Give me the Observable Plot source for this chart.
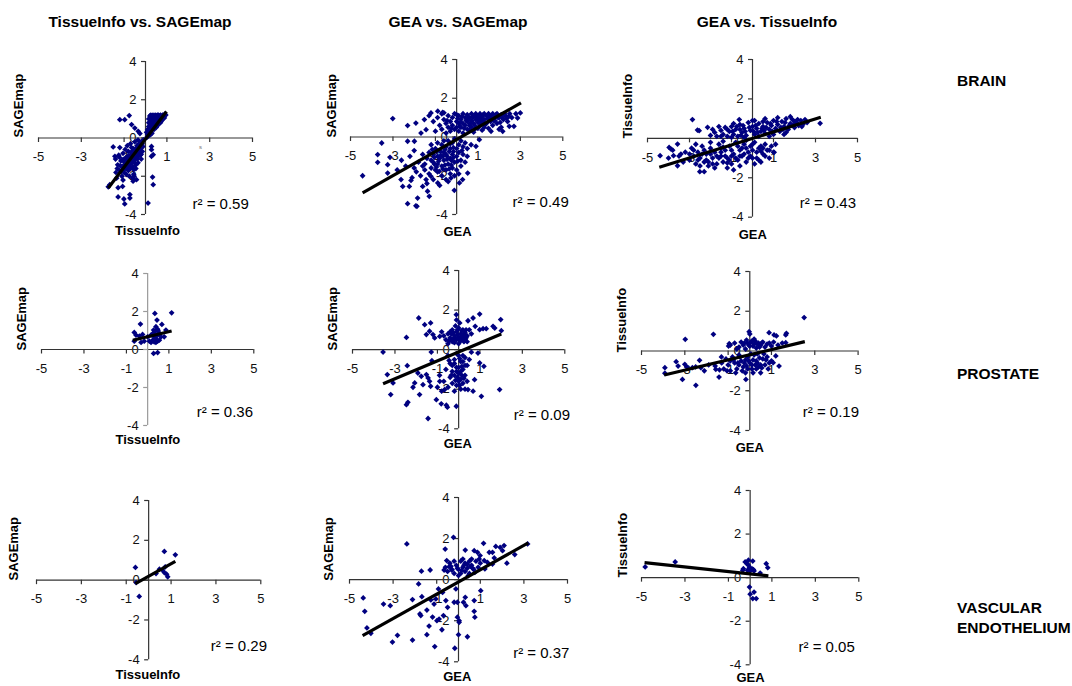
<!DOCTYPE html>
<html><head><meta charset="utf-8">
<script src="https://cdn.jsdelivr.net/npm/d3@7"></script>
<script src="https://cdn.jsdelivr.net/npm/@observablehq/plot@0.6"></script>
<style>
body{margin:0;background:#fff;font-family:"Liberation Sans",Arial,sans-serif}
#chart{position:relative;width:1072px;height:686px;overflow:hidden;background:#fff}
#chart svg{position:absolute}
</style></head><body><div id="chart"></div>
<script>
// ---------- data ----------
const columnTitles = ["TissueInfo vs. SAGEmap", "GEA vs. SAGEmap", "GEA vs. TissueInfo"];
const rowLabels = [["BRAIN"], ["PROSTATE"], ["VASCULAR", "ENDOTHELIUM"]];
const xAxisTitles = ["TissueInfo", "GEA", "GEA"];
const yAxisTitles = ["SAGEmap", "SAGEmap", "TissueInfo"];
const xTickValues = [-5, -3, -1, 1, 3, 5];
const yTickValues = [-4, -2, 0, 2, 4];
const r2Values = [0.59, 0.49, 0.43, 0.36, 0.09, 0.19, 0.29, 0.37, 0.05];

const brainTS = [
[0.1,0.2],[0.15,0.35],[0.2,0.3],[0.2,0.5],[0.25,0.6],[0.25,0.4],[0.3,0.7],[0.3,0.5],[0.3,0.9],[0.35,0.8],[0.35,1.0],[0.35,0.6],[0.4,1.1],[0.4,0.9],[0.4,0.7],[0.45,1.2],[0.45,1.0],[0.45,0.8],[0.45,0.6],[0.5,1.15],[0.5,0.95],[0.5,0.75],[0.55,1.2],[0.55,1.0],[0.55,0.85],[0.6,1.2],[0.6,1.05],[0.6,0.9],[0.6,0.7],[0.65,1.15],[0.65,0.95],[0.7,1.2],[0.7,1.0],[0.7,0.8],[0.75,1.1],[0.75,0.9],[0.8,1.2],[0.8,1.0],[0.85,1.15],[0.9,1.25],[0.2,0.8],[0.25,1.0],[0.3,1.15],[0.25,1.2],[0.15,0.6],[0.1,0.45],[0.12,0.1],[0.2,0.15],[0.05,0.3],[0.3,0.25],[0.4,0.45],[0.5,0.55],[0.55,0.65],[0.65,0.8],[0.15,1.0],[0.2,1.15],[0.35,1.2],
[0.15,0.8],[0.22,0.7],[0.28,0.85],[0.32,1.05],[0.38,0.55],[0.42,0.95],[0.48,0.65],[0.52,1.05],[0.58,0.8],[0.62,1.1],[0.68,0.9],[0.72,1.1],[0.78,0.95],[0.82,1.1],[0.88,1.05],[0.95,1.2],[0.18,0.25],[0.25,0.2],[0.08,0.05],
[-0.1,-0.1],[-0.15,-0.3],[-0.2,-0.2],[-0.2,-0.5],[-0.25,-0.35],[-0.3,-0.6],[-0.3,-0.3],[-0.3,-0.9],[-0.35,-0.5],[-0.4,-0.7],[-0.4,-0.4],[-0.4,-1.0],[-0.45,-0.8],[-0.5,-0.6],[-0.5,-1.0],[-0.5,-1.3],[-0.55,-0.9],[-0.6,-0.7],[-0.6,-1.1],[-0.6,-1.5],[-0.65,-0.5],[-0.65,-1.3],[-0.7,-0.9],[-0.7,-1.2],[-0.7,-1.6],[-0.75,-1.0],[-0.75,-1.4],[-0.8,-0.7],[-0.8,-1.2],[-0.8,-1.7],[-0.85,-1.5],[-0.9,-1.0],[-0.9,-1.3],[-0.9,-1.9],[-0.95,-1.6],[-1.0,-1.1],[-1.0,-1.4],[-1.0,-1.8],[-1.05,-0.8],[-1.1,-1.5],[-1.1,-2.0],[-1.15,-1.2],[-1.2,-1.7],[-1.25,-0.9],[-1.3,-1.4],[-1.35,-2.1],[-1.4,-1.1],[-0.35,-1.3],[-0.45,-1.6],[-0.55,-1.9],[-0.25,-0.9],[-0.2,-1.1],[-0.6,-2.1],[-0.15,-0.7],[-0.85,-0.4],[-0.95,-0.6],[-1.2,-0.5],[-0.7,-0.3],[-0.5,-0.2],[-0.35,-0.1],[-1.05,-2.2],[-0.75,-2.0],
[-0.12,-0.45],[-0.22,-0.7],[-0.28,-0.45],[-0.33,-0.75],[-0.38,-1.1],[-0.42,-0.55],[-0.48,-0.9],[-0.52,-1.15],[-0.58,-0.55],[-0.62,-1.25],[-0.68,-0.75],[-0.72,-1.05],[-0.78,-1.3],[-0.82,-0.95],[-0.88,-1.6],[-0.92,-1.15],[-0.98,-1.25],[-1.02,-1.6],[-1.08,-1.15],[-1.12,-1.75],[-1.18,-1.45],[-1.22,-1.0],[-1.32,-1.6],[-1.38,-1.8],[-0.55,-1.65],[-0.45,-1.4],[-0.35,-0.95],[-0.2,-0.85],
[-1.2,0.96],[-0.97,0.96],[-0.76,1.17],[-0.65,0.7],[-0.5,0.52],[-0.34,0.35],[-0.26,0.23],[-1.67,-2.44],[-1.28,-2.6],[-1.07,-2.53],[-1.28,-3.08],[-1.01,-3.19],[-0.73,-2.96],[-0.73,-3.14],[-0.97,-3.45],[-1.43,-0.96],[-1.51,-0.47],[0.33,-2.04],[0.36,-2.44],[0.12,-3.4],[0.28,-0.61],[0.28,-0.96],[0.36,-0.87],[0.28,-0.44],[-0.42,-2.18],[-0.58,-2.26],[-0.53,-2.0],[-1.74,-2.55]
];
const brainGS = [
[-1.3,1.1],[-1.1,0.8],[-1.0,0.3],[-0.9,1.0],[-0.8,0.6],[-0.7,1.2],[-0.7,0.4],[-0.6,0.9],[-0.5,0.7],[-0.5,0.2],[-0.4,1.1],[-0.4,0.5],[-0.3,0.8],[-0.3,0.3],[-0.2,1.0],[-0.2,0.6],[-0.1,1.2],[-0.1,0.4],[0,0.8],[0,0.5],[0.1,1.1],[0.1,0.7],[0.1,0.3],[0.2,0.9],[0.2,0.5],[0.3,1.2],[0.3,0.7],[0.3,0.2],[0.4,1.0],[0.4,0.6],[0.5,1.15],[0.5,0.8],[0.5,0.4],[0.6,1.0],[0.6,0.6],[0.7,1.2],[0.7,0.85],[0.7,0.5],[0.8,1.05],[0.8,0.7],[0.9,1.2],[0.9,0.9],[0.9,0.45],[1.0,1.1],[1.0,0.75],[1.1,1.2],[1.1,0.95],[1.1,0.6],[1.2,1.05],[1.2,0.8],[1.3,1.2],[1.3,0.9],[1.3,0.5],[1.4,1.1],[1.4,0.7],[1.5,1.2],[1.5,0.95],[1.6,1.1],[1.6,0.8],[1.7,1.2],[1.7,0.6],[1.8,1.05],[1.8,0.85],[1.9,1.2],[1.9,0.7],[2.0,1.0],[2.1,1.15],[2.1,0.5],[2.2,0.9],[2.3,1.1],[2.4,0.8],[2.5,1.2],[2.6,1.0],[2.7,0.55],[1.2,0.35],[0.8,0.25],[1.5,0.45],[2.0,0.4],[0.0,1.15],[-0.6,1.25],
[0.05,0.95],[0.15,0.55],[0.25,1.05],[0.35,0.45],[0.45,0.85],[0.55,1.0],[0.65,0.7],[0.75,1.05],[0.85,0.6],[0.95,1.0],[1.05,0.9],[1.15,0.75],[1.25,1.15],[1.35,0.65],[1.45,0.95],[1.55,1.1],[1.65,0.95],[1.75,0.85],[1.85,1.15],[1.95,1.0],[2.05,0.75],[2.15,1.0],[2.25,1.2],[2.35,0.95],[2.45,1.05],[0.6,0.35],[1.0,0.45],[0.2,0.75],[-0.25,0.45],[-0.45,0.85],
[-0.1,-0.1],[0.2,-0.2],[0.4,-0.3],[0.5,-0.6],[0.3,-0.5],[0.1,-0.4],[0,-0.6],[-0.2,-0.3],[-0.3,-0.6],[-0.4,-0.2],[-0.5,-0.5],[-0.6,-0.8],[-0.7,-0.4],[-0.8,-0.7],[-0.9,-1.0],[-1.0,-0.6],[-1.1,-0.9],[-1.2,-1.2],[-1.3,-0.8],[-1.4,-1.1],[-1.5,-1.4],[-1.6,-0.9],[-1.8,-1.3],[-2.0,-1.6],[-2.2,-1.0],[-2.4,-1.5],[-2.6,-1.2],[-2.8,-1.7],[0.3,-0.9],[0.2,-1.2],[0.1,-0.8],[0,-1.0],[-0.1,-1.3],[-0.2,-0.9],[-0.3,-1.1],[-0.4,-1.4],[-0.5,-0.9],[-0.6,-1.2],[-0.7,-1.5],[-0.8,-1.1],[-0.9,-1.4],[-1.0,-1.7],[-1.1,-1.3],[-1.2,-1.6],[-1.3,-1.9],[-1.5,-1.7],[-1.7,-2.0],[-1.9,-1.8],[-2.1,-2.1],[0.2,-1.5],[0,-1.7],[-0.2,-1.6],[-0.3,-1.9],[-0.5,-1.7],[-0.7,-2.0],[-0.9,-1.8],[-1.1,-2.2],[-0.4,-2.3],[-0.1,-2.0],[0.1,-1.9],[-0.6,-0.2],[-0.9,-0.3],[-1.2,-0.4],[-0.3,-0.35],[-0.8,-2.5],[-1.4,-2.4],[0.4,-1.3],[0.5,-1.0],[-1.6,-1.5],[-2.0,-0.7],[-0.15,-0.75],[-0.45,-1.15],[-0.75,-0.95],[-1.05,-1.05],[-0.25,-1.45],[-0.55,-1.45],
[-0.15,-0.55],[-0.35,-0.75],[-0.55,-0.65],[-0.75,-0.75],[-0.95,-0.75],[-1.15,-0.65],[-0.25,-1.2],[-0.45,-1.0],[-0.65,-1.0],[-0.85,-1.25],[-1.05,-1.4],[-0.15,-1.05],[0.05,-1.25],[0.25,-0.7],[-0.35,-1.65],[-0.65,-1.65],[-0.95,-1.55],
[-4.43,-2.0],[-3.72,-0.91],[-3.72,-1.31],[-3.53,-0.31],[-3.25,-1.43],[-3.25,-1.86],[-3.01,0.95],[-3.14,-1.05],[-2.31,-0.22],[-2.31,0.59],[-2.31,-3.44],[-1.92,-3.55],[-1.87,-3.58],[-1.84,-3.15],[-2.62,-2.2],[-2.54,-2.55],[-2.23,-2.55],[-2.15,-2.24],[-1.92,0.72],[-1.52,0.9],[-1.29,-3.06],[-1.37,-2.8],[-1.6,-2.55],[-1.44,-2.2],[-1.21,-2.03],[-0.82,-1.77],[-0.89,-2.37],[-0.5,-2.2],[-0.11,-2.75],[-0.27,-2.12],[0.13,-2.37],[0.28,-2.2],[0.52,-1.86],[0.68,-0.4],[0.91,-0.48],[1.07,-0.14],[1.62,0.29],[2.17,0.29],[2.48,0.55],[2.87,0.98],[3.0,1.24],[2.79,1.2],[-1.21,1.24],[-0.89,1.33],[-0.66,1.27],[-1.44,0.38],[-1.68,0.2],[-1.99,-0.22]
];
const brainGT = [
[-2.0,0.15],[-1.8,0.3],[-1.7,0.1],[-1.5,0.4],[-1.4,0.2],[-1.3,0.55],[-1.2,0.1],[-1.1,0.35],[-1.0,0.6],[-0.9,0.2],[-0.8,0.45],[-0.7,0.1],[-0.6,0.7],[-0.5,0.3],[-0.4,0.5],[-0.3,0.15],[-0.2,0.8],[-0.1,0.4],[0,0.6],[0.1,0.2],[0.2,0.5],[0.3,0.75],[0.3,0.1],[0.4,0.35],[0.5,0.6],[0.6,0.25],[0.7,0.8],[0.8,0.45],[0.9,0.65],[1.0,0.2],[1.0,0.9],[1.1,0.5],[1.2,0.7],[1.3,0.35],[1.4,0.85],[1.5,0.6],[1.6,1.0],[1.7,0.45],[1.8,0.75],[1.9,0.95],[2.0,0.55],[2.1,0.8],[2.2,0.65],[2.3,0.9],[2.4,0.7],[2.6,0.8],[-1.6,0.6],[-0.9,0.75],[0.1,0.9],[0.6,1.0],[1.2,1.05],[1.8,1.1],[-0.4,0.05],[0.8,0.1],[1.5,0.2],[-1.0,0.05],[2.5,0.95],[0.5,0.85],[-0.6,0.45],[1.6,0.3],
[-1.9,0.45],[-1.5,0.1],[-1.2,0.45],[-0.95,0.35],[-0.75,0.6],[-0.55,0.15],[-0.35,0.35],[-0.15,0.55],[0.05,0.35],[0.25,0.3],[0.45,0.5],[0.65,0.55],[0.85,0.75],[0.95,0.35],[1.15,0.85],[1.35,0.55],[1.55,0.8],[1.75,0.65],[1.95,0.7],[2.15,0.95],[2.35,0.6],[0.15,0.65],[-0.45,0.65],[0.55,0.4],[1.45,0.45],[2.0,0.85],
[-3.2,-0.7],[-3.0,-1.1],[-2.9,-0.5],[-2.8,-0.9],[-2.7,-1.3],[-2.6,-0.7],[-2.5,-1.0],[-2.4,-0.4],[-2.3,-1.2],[-2.2,-0.8],[-2.1,-1.4],[-2.0,-0.5],[-1.9,-1.0],[-1.8,-0.7],[-1.7,-1.3],[-1.6,-0.3],[-1.5,-0.9],[-1.4,-1.2],[-1.3,-0.6],[-1.2,-1.0],[-1.1,-0.4],[-1.0,-1.3],[-0.9,-0.8],[-0.8,-0.2],[-0.7,-1.1],[-0.6,-0.6],[-0.5,-0.9],[-0.4,-0.3],[-0.3,-1.2],[-0.2,-0.7],[-0.1,-0.4],[0,-1.0],[0.1,-0.2],[0.2,-0.7],[0.3,-1.1],[0.4,-0.4],[0.5,-0.8],[0.6,-0.3],[0.7,-0.6],[0.8,-1.0],[0.9,-0.4],[1.0,-0.7],[1.1,-0.3],[-2.5,-1.4],[-1.8,-1.5],[-1.2,-1.5],[-0.6,-1.4],[0.1,-1.3],[-3.3,-1.2],[-2.0,-0.2],[-1.4,-0.15],[-0.3,-0.1],[0.4,-1.2],[-0.9,-1.6],[-1.5,-0.5],[-2.3,-0.6],[-0.5,-0.5],[0.0,-0.6],[-1.0,-0.9],[-1.7,-0.9],[-2.7,-0.3],[-3.5,-0.9],[-4.0,-1.0],[-3.8,-0.6],
[-3.0,-0.8],[-2.8,-0.6],[-2.6,-1.1],[-2.4,-0.8],[-2.2,-1.1],[-2.0,-0.8],[-1.9,-1.3],[-1.6,-1.0],[-1.5,-0.7],[-1.3,-0.9],[-1.1,-1.1],[-1.0,-0.6],[-0.8,-1.0],[-0.7,-0.4],[-0.6,-0.9],[-0.4,-0.8],[-0.3,-0.5],[-0.1,-0.9],[0.0,-0.3],[0.2,-1.0],[0.3,-0.5],[0.5,-0.5],[0.6,-0.9],[0.8,-0.6],[-1.2,-1.25],[-2.1,-1.2],[-1.4,-0.45],[-0.2,-1.0],[0.4,-0.65],
[-4.4,-0.88],[-3.97,-0.46],[-3.89,-0.54],[-3.57,-0.29],[-3.76,-0.88],[-3.41,-0.8],[-2.86,0.95],[-2.62,0.42],[-2.54,0.39],[-2.14,0.56],[-2.51,-1.69],[-2.3,-1.69],[3.22,0.76],[-0.63,0.95],[0,0.9],[1.03,-0.71],[-3.57,-1.39]
];
const prostateTS = [
[0.34,1.9],[1.13,1.93],[0.44,1.55],[-0.34,1.34],[0.67,1.32],[0.39,1.2],[0.47,1.07],[0.28,1.02],[0.86,1.02],[-0.63,0.9],[-0.55,0.76],[-0.39,0.7],[-0.24,0.79],[0,0.67],[0.16,0.76],[0.24,0.84],[0.31,0.67],[0.39,0.58],[0.47,0.76],[0.55,0.84],[0.63,0.67],[0.78,0.67],[0.24,0.49],[0.31,0.4],[0.16,0.37],[0.39,0.37],[0.47,0.44],[-0.31,0.37],[-0.16,0.44],[-0.63,0.44],[0.28,-0.21],[0.47,-0.16],[0.08,0.44],[0.55,0.49],[0.34,0.93],[0.5,0.97]
];
const prostateGS = [
[-0.6,0.5],[-0.5,0.8],[-0.5,0.3],[-0.4,0.6],[-0.3,1.0],[-0.3,0.4],[-0.2,0.7],[-0.1,0.5],[-0.1,0.9],[0,0.6],[0,1.1],[0,0.3],[0.1,0.8],[0.1,0.45],[0.2,0.65],[0.2,1.0],[0.3,0.5],[0.3,0.85],[0.4,0.7],[0.4,0.4],[-0.2,0.35],[-0.4,0.9],[0.15,0.55],[-0.05,0.75],[0.25,0.75],[-0.15,1.2],[0.05,1.35],[-0.1,1.5],[-0.7,0.7],[-0.8,0.9],[0.6,0.8],[0.5,1.0],[-0.25,0.55],[0.35,0.6],[-0.35,0.8],
[-0.45,0.45],[-0.15,0.6],[0.05,0.55],[0.25,0.4],[0.35,1.0],[-0.05,1.0],[0.15,0.95],[-0.25,0.85],[0.1,0.65],[-0.35,0.5],
[-0.5,-0.3],[-0.4,-0.7],[-0.3,-1.1],[-0.2,-0.5],[-0.1,-0.9],[0,-0.3],[0.1,-0.6],[0.2,-1.0],[0.3,-0.4],[0.4,-0.8],[-0.4,-1.4],[-0.2,-1.3],[0,-1.2],[0.1,-1.5],[0.3,-1.3],[-0.3,-1.7],[-0.1,-1.8],[0.1,-2.0],[0.2,-1.7],[-0.5,-1.9],[-0.2,-2.1],[0,-1.6],[0.3,-2.0],[-0.1,-0.2],[0.2,-0.3],[0.5,-0.5],[-0.6,-1.0],[0.4,-1.6],[-0.3,-0.8],[0.05,-0.45],[-0.15,-1.55],[0.25,-1.45],[-0.45,-0.55],[0.15,-0.85],[-0.7,-1.6],[-0.8,-2.1],[-1.0,-1.9],[-0.9,-1.3],
[0,-0.9],[0.1,-1.1],[-0.1,-1.1],[0.2,-0.6],[-0.2,-0.7],[0.05,-1.8],[-0.05,-1.4],[0.15,-1.3],[0.3,-0.8],[-0.35,-1.3],
[-3.56,-0.12],[-3.36,-1.26],[-3.2,-2.27],[-3.09,-1.68],[-2.46,0.62],[-2.42,-0.81],[-2.46,-2.78],[-2.39,-2.66],[-2.15,-1.9],[-2.07,-1.68],[-1.92,-1.18],[-1.88,1.6],[-1.84,-2.27],[-1.76,-1.35],[-1.68,-1.77],[-1.6,1.26],[-1.52,-1.26],[-1.44,-1.43],[-1.37,-1.6],[-1.32,-1.85],[-1.44,-3.48],[-1.32,1.35],[-1.52,0.76],[-1.37,0.93],[-1.21,0.76],[-1.13,0.59],[-1.05,-2.53],[-0.89,0.67],[-0.89,-1.6],[-0.82,-2.74],[-0.66,-2.02],[-0.58,-2.81],[-0.53,-2.91],[-0.11,-2.86],[-0.11,1.77],[0.44,1.46],[0.68,1.6],[0.99,1.8],[0.78,1.18],[0.99,1.01],[1.15,1.06],[1.3,1.06],[1.62,1.18],[1.7,1.09],[1.98,1.52],[2.01,0.96],[1.93,-2.02],[1.07,-2.36],[0.68,-2.1],[0.44,-2.02],[0.75,-1.52],[1.19,-0.84],[0.99,-0.67],[0.6,-0.13],[0.91,-0.17],[-1.29,-0.12],[-1.26,-0.56]
];
const prostateGT = [
[-0.9,0.3],[-0.7,0.4],[-0.5,0.2],[-0.4,0.45],[-0.3,0.3],[-0.2,0.1],[-0.1,0.4],[0,0.25],[0.1,0.5],[0.2,0.35],[0.3,0.15],[0.4,0.4],[0.5,0.3],[0.6,0.45],[0.7,0.2],[0.8,0.35],[0.9,0.4],[1.0,0.25],[1.1,0.45],[1.3,0.3],[1.5,0.4],[-0.15,0.55],[0.05,0.45],[0.25,0.5],[0.45,0.2],[-0.6,0.1],[0.0,0.85],[0.2,0.6],
[-0.25,0.4],[0.35,0.35],[0.55,0.4],[0.15,0.25],[-0.05,0.3],
[-1.3,-0.6],[-1.2,-0.9],[-1.1,-0.4],[-1.0,-0.7],[-0.9,-1.0],[-0.8,-0.3],[-0.7,-0.6],[-0.6,-0.9],[-0.5,-0.2],[-0.4,-0.5],[-0.3,-0.8],[-0.2,-1.1],[-0.1,-0.3],[0,-0.6],[0.1,-0.9],[0.2,-0.2],[0.3,-0.5],[0.4,-0.8],[0.5,-1.1],[0.6,-0.4],[0.7,-0.7],[0.8,-0.3],[0.9,-0.6],[1.0,-0.5],[-0.9,-0.5],[-0.5,-0.7],[-0.2,-0.45],[0.05,-0.15],[0.25,-0.7],[0.45,-0.35],[-0.35,-1.0],[0.15,-1.1],[0.55,-0.85],[-0.65,-1.1],[-1.05,-1.0],[0.35,-0.15],[-0.15,-0.75],[0.65,-0.15],[-1.4,-0.95],[-1.6,-0.75],[-1.9,-0.7],[-2.1,-1.0],[-2.5,-0.8],[0.85,-0.9],
[-0.75,-0.45],[-0.45,-0.3],[-0.25,-0.6],[-0.05,-0.5],[0.15,-0.45],[0.35,-0.6],[0.5,-0.7],[0.75,-0.45],[-0.55,-0.6],[0.1,-0.7],[0.3,-0.9],[-0.1,-0.9],
[2.51,1.68],[1.66,0.81],[1.69,0.89],[1.12,0.81],[1.23,0.76],[0.89,0.92],[1.66,0.42],[1.35,-0.76],[1.2,-0.25],[1.08,-0.59],[-1.68,0.84],[-2.98,0.59],[-3.92,-0.84],[-3.92,-1.12],[-3.4,-0.54],[-3.31,-0.76],[-3.0,-0.67],[-2.91,-0.81],[-3.11,-1.43],[-2.32,-0.47],[-2.49,-1.73],[-2.65,-0.84],[-2.26,-0.84],[-1.57,-0.92],[-1.42,-1.31],[-1.31,-0.3],[-0.95,0.37],[-0.98,0.25],[-0.03,0.97],[-0.18,-1.43]
];
const vascTS = [
[-0.59,0.64],[0.7,1.44],[1.19,1.27],[-0.42,-0.82],[0.33,0.33],[0.62,0.5],[0.74,0.67],[0.7,0.38],[0.8,0.3],[0.85,0.17],[-0.56,-0.12],[0.48,0.55]
];
const vascGS = [
[-0.6,0.6],[-0.5,0.4],[-0.4,0.8],[-0.3,0.5],[-0.2,0.3],[-0.1,0.7],[0,0.5],[0.1,0.9],[0.1,0.3],[0.2,0.6],[0.3,0.8],[0.3,0.4],[0.4,0.55],[0.5,0.9],[0.5,0.3],[0.6,0.7],[0.7,0.5],[0.8,0.9],[0.9,0.6],[1.0,0.8],[-0.2,0.9],[0,0.2],[0.2,1.0],[0.4,0.75],[0.6,1.0],[0.75,0.35],[-0.35,0.65],[0.15,0.45],[0.65,0.55],[0.95,1.0],[-0.05,0.55],[0.45,0.2],[0.55,0.65],[0.25,0.7],
[-4.37,-0.89],[-4.3,-1.54],[-4.2,-2.35],[-4.02,-2.61],[-3.44,-1.19],[-3.13,-1.27],[-3.03,-3.04],[-2.8,-2.71],[-2.37,1.74],[-2.11,-0.97],[-2.11,-2.94],[-1.83,-0.21],[-1.73,-1.75],[-1.7,0.41],[-1.68,-0.83],[-1.77,-1.67],[-1.45,-2.68],[-1.45,-1.48],[-1.35,-2.26],[-1.3,0.47],[-1.27,-0.99],[-1.19,-1.82],[-1.12,-1.19],[-1.09,-3.26],[-1.04,-0.94],[-0.99,-2.0],[-0.92,-0.45],[-0.89,-1.92],[-0.76,-2.44],[-0.69,-1.75],[-0.73,-0.62],[-0.66,0.47],[-0.61,1.49],[-0.58,-1.02],[-0.54,0.93],[-0.5,-1.35],[-0.43,0.63],[-0.31,0.47],[-0.23,2.06],[-0.2,-1.1],[-0.17,-3.34],[-0.12,-0.45],[-0.05,-1.1],[-0.05,-1.83],[0,-2.68],[0.03,-2.0],[0.03,-2.08],[0.23,-1.1],[0.31,-0.86],[0.34,-1.27],[0.41,-2.78],[0.31,1.44],[0.72,-1.02],[0.72,-1.54],[0.75,-1.83],[1.02,-0.54],[0.72,1.41],[0.87,1.33],[0.99,1.17],[1.15,1.77],[1.41,1.33],[1.56,1.33],[1.71,1.62],[1.91,1.57],[2.02,1.41],[2.09,1.66],[2.22,0.8],[2.58,1.22],[3.17,1.74],[1.21,0.52],[1.56,0.76],[1.64,1.06],[1.33,0.84],[1.18,0.93]
];
const vascGT = [
[-4.83,0.49],[-3.45,0.72],[-0.23,0.72],[-0.15,0.64],[-0.08,0.57],[0.12,0.76],[-0.03,0.46],[-0.31,0.41],[-0.34,0.34],[-0.12,0.34],[0.08,0.41],[0.15,0.37],[0.18,0.31],[0.46,0.21],[0.74,0.64],[0.81,0.46],[-0.03,-0.43],[0,-0.76],[0.18,-0.66],[0.12,-0.96],[0.28,-0.96],[-0.08,0.8],[0,0.31]
];

// regression lines: [[x1, y1], [x2, y2]]
const trendBrainTS = [[-1.74,-2.61],[0.98,1.39]];
const trendBrainGS = [[-4.43,-2.89],[3.03,1.76]];
const trendBrainGT = [[-4.44,-1.47],[3.25,1.07]];
const trendProstateTS = [[-0.7,0.49],[1.13,0.97]];
const trendProstateGS = [[-3.56,-1.72],[2.01,0.79]];
const trendProstateGT = [[-3.95,-1.21],[2.54,0.47]];
const trendVascTS = [[-0.59,-0.17],[1.19,0.94]];
const trendVascGS = [[-4.4,-2.73],[3.2,1.79]];
const trendVascGT = [[-4.86,0.69],[0.84,0.08]];

// ---------- layout ----------
const FONT = '"Liberation Sans", Arial, sans-serif';
const panels = [
  {pts: brainTS, trend: trendBrainTS, L:38, R:252, T:61, B:214, yt:[18,137], xt:[147,234], rt:[192,208]},
  {pts: brainGS, trend: trendBrainGS, L:350, R:562.3, T:59, B:214, yt:[331,137], xt:[457,236], rt:[512,207]},
  {pts: brainGT, trend: trendBrainGT, L:646.7, R:856.7, T:59, B:216.7, yt:[627,138], xt:[752,239], rt:[799,208]},
  {pts: prostateTS, trend: trendProstateTS, L:40.7, R:253, T:273, B:425, yt:[21,350], xt:[147,444], rt:[196,417], yAxisColor:"#9a9a9a"},
  {pts: prostateGS, trend: trendProstateGS, L:351.7, R:564, T:270, B:428.3, yt:[332,350], xt:[457,448], rt:[513,420]},
  {pts: prostateGT, trend: trendProstateGT, L:640.7, R:857.3, T:271, B:430, yt:[621,352], xt:[749,452], rt:[802,417]},
  {pts: vascTS, trend: trendVascTS, L:35.7, R:260, T:500, B:659.3, yt:[13,580], xt:[147,679], rt:[210,651]},
  {pts: vascGS, trend: trendVascGS, L:349.3, R:567.3, T:496.7, B:661, yt:[329,580], xt:[457,680], rt:[513,657]},
  {pts: vascGT, trend: trendVascGT, L:641, R:858.3, T:490, B:664.3, yt:[622,577], xt:[750,682], rt:[798,652]}
];

const chart = document.getElementById("chart");
const ml = 40, mr = 40, mt = 20, mb = 50;
const axisColor = "#333";

panels.forEach((p, i) => {
  const col = i % 3;
  const w = p.R - p.L + ml + mr, h = p.B - p.T + mt + mb;
  const pxX = (p.R - p.L) / 10, pxY = (p.B - p.T) / 8;
  const tkX = 4 / pxX, tkY = 4.5 / pxY;
  const midX = (p.L + p.R) / 2, midY = (p.T + p.B) / 2;
  const yCol = p.yAxisColor || axisColor;
  const svg = Plot.plot({
    width: w, height: h,
    marginLeft: ml, marginRight: mr, marginTop: mt, marginBottom: mb,
    x: {domain: [-5, 5], axis: null},
    y: {domain: [-4, 4], axis: null},
    style: {background: "transparent", overflow: "visible", fontFamily: FONT, color: "#000"},
    marks: [
      Plot.text(xTickValues, {x: d => d, y: 0, dy: 19, text: d => String(d), fontSize: 13, fill: "#111"}),
      Plot.text(yTickValues, {x: 0, y: d => d, dx: -9, textAnchor: "end", text: d => String(d), fontSize: 13, fill: "#111"}),
      Plot.ruleY([0], {stroke: axisColor, strokeWidth: 1.2}),
      Plot.ruleX([0], {stroke: yCol, strokeWidth: 1.2}),
      Plot.ruleX(xTickValues, {x: d => d, y1: 0, y2: -tkY, stroke: axisColor, strokeWidth: 1.2}),
      Plot.ruleY(yTickValues, {y: d => d, x1: 0, x2: -tkX, stroke: yCol, strokeWidth: 1.2}),
      Plot.dot(p.pts, {x: d => d[0], y: d => d[1], symbol: "diamond2", r: 2.6, fill: "#000080", stroke: "none"}),
      Plot.link([p.trend], {x1: d => d[0][0], y1: d => d[0][1], x2: d => d[1][0], y2: d => d[1][1], stroke: "#000", strokeWidth: 3.2, strokeLinecap: "butt"}),
      Plot.text([yAxisTitles[col]], {frameAnchor: "left", rotate: -90, dx: p.yt[0] - p.L, dy: p.yt[1] - midY, text: d => d, fontWeight: "bold", fontSize: 13, fill: "#000"}),
      Plot.text([xAxisTitles[col]], {frameAnchor: "bottom", dx: p.xt[0] - midX, dy: p.xt[1] - p.B, text: d => d, fontWeight: "bold", fontSize: 13, fill: "#000"}),
      Plot.text([r2Values[i]], {frameAnchor: "bottom-left", textAnchor: "start", dx: p.rt[0] - p.L, dy: p.rt[1] - p.B, text: d => "r\u00B2 = " + d.toFixed(2), fontSize: 15, fill: "#000"})
    ]
  });
  svg.style.left = (p.L - ml) + "px";
  svg.style.top = (p.T - mt) + "px";
  chart.appendChild(svg);
});

// headers and row labels
const overlay = d3.select(chart).append("svg")
  .attr("width", 1072).attr("height", 686)
  .style("left", "0px").style("top", "0px").style("pointer-events", "none")
  .attr("font-family", FONT);
const headerX = [140, 458, 767];
overlay.selectAll("text.hdr").data(columnTitles).join("text")
  .attr("class", "hdr")
  .attr("x", (d, i) => headerX[i]).attr("y", 26.5)
  .attr("text-anchor", "middle").attr("font-weight", "bold").attr("font-size", 15.5)
  .text(d => d);
const rowBaseline = [86, 379, 613];
rowLabels.forEach((lines, i) => {
  lines.forEach((t, j) => {
    overlay.append("text").attr("x", 957).attr("y", rowBaseline[i] + j * 20)
      .attr("font-weight", "bold").attr("font-size", 15.5).text(t);
  });
});
overlay.append("text").attr("x", 199).attr("y", 149).attr("font-size", 6).attr("fill", "#777").text("s");
</script>
</body></html>
